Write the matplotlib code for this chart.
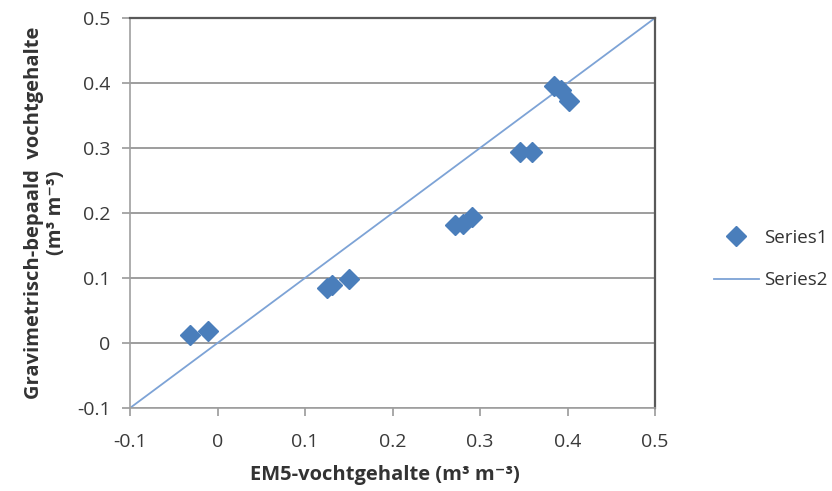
import matplotlib
matplotlib.use("Agg")
import matplotlib.pyplot as plt

# Data
em5 = [-0.032, -0.0105, 0.1255, 0.131, 0.150, 0.271, 0.281, 0.2905, 0.346, 0.359, 0.3846, 0.393, 0.402]
grav = [0.012, 0.018, 0.084, 0.090, 0.098, 0.182, 0.183, 0.194, 0.294, 0.294, 0.396, 0.389, 0.372]
line_x = [-0.1, 0.5]
line_y = [-0.1, 0.5]
ticks = [-0.1, 0, 0.1, 0.2, 0.3, 0.4, 0.5]
tick_labels = ["-0.1", "0", "0.1", "0.2", "0.3", "0.4", "0.5"]

plt.rcParams['font.family'] = ['Open Sans', 'DejaVu Sans']

fig = plt.figure(figsize=(8.32, 4.91), dpi=100)
ax = fig.add_axes([130/832, 1-408/491, (655-130)/832, (408-18)/491])

ax.plot(em5, grav, linestyle='none', marker='D', markersize=10,
        color='#4a7ebb', label='Series1', zorder=3)
ax.plot(line_x, line_y, color='#7da3d6', linewidth=1.3, label='Series2', zorder=2)

ax.set_xlim(-0.1, 0.5)
ax.set_ylim(-0.1, 0.5)
ax.set_xticks(ticks)
ax.set_xticklabels(tick_labels)
ax.set_yticks(ticks)
ax.set_yticklabels(tick_labels)
ax.tick_params(axis='both', labelsize=14, labelcolor='#3a3a3a', length=6, direction='out',
               width=1.2, color='#999999')
ax.tick_params(axis='x', pad=12)
ax.tick_params(axis='y', pad=8)

ax.yaxis.grid(True, color='#8c8c8c', linewidth=1.2)
ax.set_axisbelow(True)
for s in ['left', 'bottom']:
    ax.spines[s].set_color('#a0a0a0')
    ax.spines[s].set_linewidth(1.2)
for s in ['top', 'right']:
    ax.spines[s].set_color('#595959')
    ax.spines[s].set_linewidth(1.6)

ax.set_xlabel('EM5-vochtgehalte (m\u00b3 m\u207b\u00b3)', fontsize=14.5, fontweight='bold',
              color='#333333')
ax.xaxis.set_label_coords(0.485, -0.145)
ax.set_ylabel('Gravimetrisch-bepaald  vochtgehalte\n(m\u00b3 m\u207b\u00b3)', fontsize=14.5,
              fontweight='bold', color='#333333', labelpad=8, linespacing=1.15)

leg = ax.legend(loc='center left', bbox_to_anchor=(1.08, 0.382), frameon=False,
                fontsize=13.5, labelspacing=1.3, handlelength=2.4, handletextpad=0.3,
                labelcolor='#333333')

fig.savefig('out.png', dpi=100)
